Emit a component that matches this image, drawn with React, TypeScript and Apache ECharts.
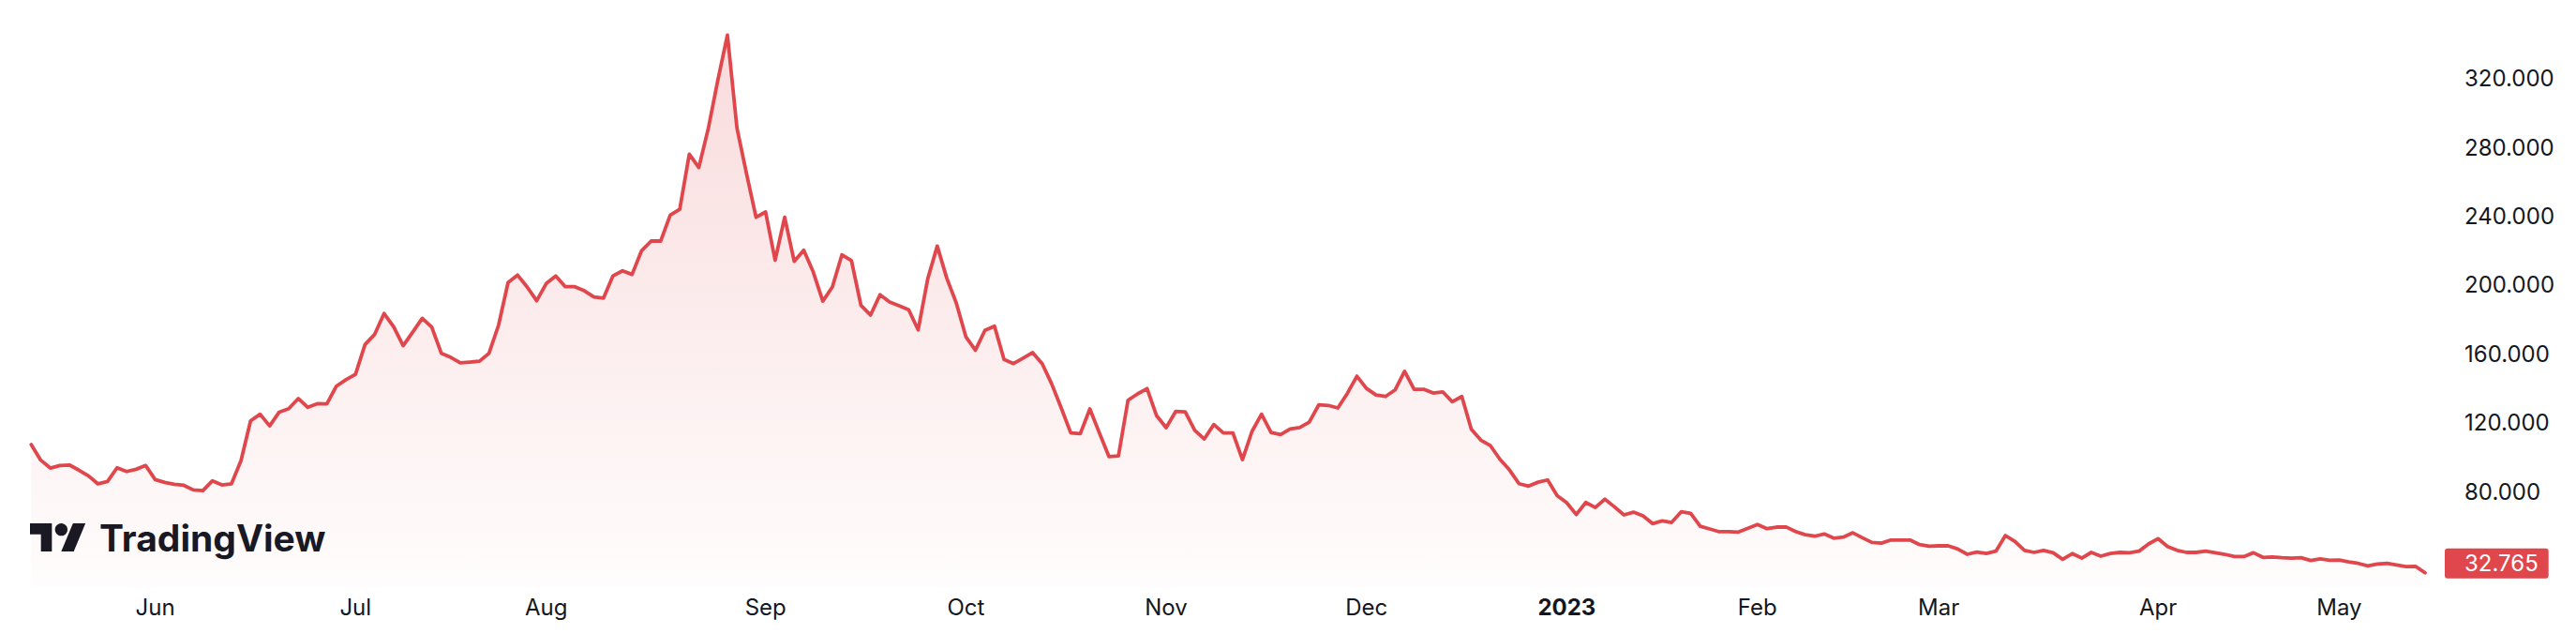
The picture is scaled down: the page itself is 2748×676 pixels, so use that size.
import React, { useEffect, useRef } from "react";
import * as echarts from "echarts";

// Daily closes (trading days, 12 May 2022 – 12 May 2023)
const may22 = [107.2, 98.2, 93.6, 95.1, 95.4, 92.4, 89.1, 84.4, 85.8, 93.8, 91.6, 92.9, 95.1];
const jun22 = [86.9, 85.3, 84.2, 83.6, 80.9, 80.5, 86.2, 83.8, 84.5, 98.0, 121.0, 124.9, 118.1, 126.1, 128.1, 134.0, 128.9, 131.0, 130.9, 141.2, 144.9];
const jul22 = [148.1, 165.4, 171.2, 183.4, 175.7, 164.7, 172.6, 180.6, 175.5, 160.3, 157.9, 154.7, 155.2, 155.7, 160.3, 176.6, 201.4, 205.7, 198.8, 190.8];
const aug22 = [200.8, 205.2, 199.0, 199.0, 196.6, 193.0, 192.3, 205.3, 208.2, 206.1, 219.9, 225.5, 225.5, 240.6, 244.0, 276.0, 268.2, 291.1, 319.2, 345.2, 291.1, 264.7, 239.3];
const sep22 = [242.4, 214.4, 239.3, 213.7, 220.2, 207.5, 190.6, 198.8, 217.5, 214.2, 188.1, 182.5, 194.3, 190.1, 187.9, 185.6, 173.9, 203.5, 222.6, 203.9, 189.4];
const oct22 = [169.9, 162.1, 173.6, 176.1, 156.7, 154.3, 157.5, 160.7, 154.3, 142.5, 128.5, 114.0, 113.6, 128.0, 114.0, 100.3, 100.7, 133.0, 136.7, 139.8, 124.0];
const nov22 = [117.1, 126.5, 126.3, 115.5, 110.5, 118.9, 114.0, 114.0, 98.5, 114.9, 124.9, 114.3, 113.1, 116.3, 117.1, 120.3, 130.3, 130.0, 128.5, 137.0, 147.0];
const dec22 = [139.9, 136.1, 135.2, 139.0, 149.8, 139.4, 139.4, 137.2, 137.9, 132.1, 135.2, 116.1, 109.8, 106.6, 98.7, 92.5, 84.5, 83.1, 85.4, 86.7, 77.6];
const jan23 = [73.5, 66.6, 73.6, 70.7, 75.5, 71.1, 66.4, 68.0, 65.8, 61.3, 62.9, 62.0, 68.2, 67.3, 59.8, 58.2, 56.6, 56.7, 56.4, 58.6];
const feb23 = [60.8, 58.4, 59.3, 59.4, 56.7, 54.9, 54.0, 55.3, 52.9, 53.5, 56.0, 53.1, 50.4, 50.0, 51.8, 51.8, 51.8, 49.1, 48.2];
const mar23 = [48.4, 48.4, 46.6, 43.5, 44.8, 44.0, 45.3, 54.4, 50.9, 45.7, 44.6, 45.8, 44.4, 40.6, 43.9, 41.3, 44.6, 42.4, 44.0, 44.6, 44.4, 45.3, 49.5];
const apr23 = [52.6, 48.0, 45.8, 44.6, 44.6, 45.3, 44.4, 43.5, 42.2, 42.2, 44.4, 41.7, 41.9, 41.5, 41.3, 41.5, 39.9, 40.8, 40.0];
const may23 = [40.2, 39.1, 38.2, 36.8, 37.9, 38.2, 37.3, 36.4, 36.5, 32.765];

const closes = [...may22, ...jun22, ...jul22, ...aug22, ...sep22, ...oct22, ...nov22, ...dec22, ...jan23, ...feb23, ...mar23, ...apr23, ...may23];

const startDate = "2022-05-12";
const endDate = "2023-05-12";
const marketHolidays = ["2022-05-30", "2022-06-20", "2022-07-04", "2022-09-05", "2022-11-24", "2022-12-26", "2023-01-02", "2023-01-16", "2023-02-20", "2023-04-07"];
const monthNames = ["Jan", "Feb", "Mar", "Apr", "May", "Jun", "Jul", "Aug", "Sep", "Oct", "Nov", "Dec"];
const yTickLabels = [80, 120, 160, 200, 240, 280, 320];

function tradingDays(start: string, end: string, holidays: string[]): string[] {
  const out: string[] = [];
  const d = new Date(start + "T00:00:00Z");
  const e = new Date(end + "T00:00:00Z");
  while (d.getTime() <= e.getTime()) {
    const wd = d.getUTCDay();
    const s = d.toISOString().slice(0, 10);
    if (wd !== 0 && wd !== 6 && holidays.indexOf(s) < 0) out.push(s);
    d.setUTCDate(d.getUTCDate() + 1);
  }
  return out;
}

const dates = tradingDays(startDate, endDate, marketHolidays);

const LINE = "#e0474c";
const TEXT = "#131722";
const FONT = "Inter, Roboto, 'Noto Sans', sans-serif";

export default function App() {
  const ref = useRef<HTMLDivElement>(null);

  useEffect(() => {
    if (!ref.current) return;
    const chart = echarts.init(ref.current, null, { renderer: "svg" });
    const firstOfMonth = dates.map((d, i) => i > 0 && d.slice(5, 7) !== dates[i - 1].slice(5, 7));

    const s = 1.667;
    chart.setOption({
      animation: false,
      backgroundColor: "#ffffff",
      grid: { left: 33.3, right: 161, top: 10.2, bottom: 49.2, containLabel: false, outerBoundsMode: "none" },
      xAxis: {
        type: "category",
        data: dates,
        boundaryGap: false,
        axisLine: { show: false },
        axisTick: { show: false },
        splitLine: { show: false },
        axisLabel: {
          interval: (index: number) => firstOfMonth[index],
          margin: 9,
          fontSize: 24,
          fontFamily: FONT,
          color: TEXT,
          formatter: (value: string) => {
            const m = parseInt(value.slice(5, 7), 10);
            if (m === 1) return "{yr|" + value.slice(0, 4) + "}";
            return monthNames[m - 1];
          },
          rich: {
            yr: { fontSize: 24, fontFamily: FONT, fontWeight: 700, color: TEXT },
          },
        },
      },
      yAxis: {
        type: "value",
        position: "right",
        min: 24,
        max: 360,
        interval: 8,
        axisLine: { show: false },
        axisTick: { show: false },
        splitLine: { show: false },
        axisLabel: {
          margin: 42,
          fontSize: 24,
          fontFamily: FONT,
          color: TEXT,
          formatter: (v: number) => (yTickLabels.indexOf(v) >= 0 ? v.toFixed(3) : ""),
        },
      },
      series: [
        {
          type: "line",
          data: closes,
          showSymbol: false,
          symbol: "none",
          lineStyle: { color: LINE, width: 3.8, join: "round", cap: "round" },
          itemStyle: { color: LINE },
          areaStyle: {
            color: new echarts.graphic.LinearGradient(0, 0, 0, 1, [
              { offset: 0, color: "rgba(224,71,76,0.28)" },
              { offset: 1, color: "rgba(224,71,76,0.02)" },
            ]),
          },
          endLabel: {
            show: true,
            formatter: () => closes[closes.length - 1].toFixed(3),
            color: "#ffffff",
            backgroundColor: LINE,
            fontSize: 24,
            lineHeight: 24,
            fontFamily: FONT,
            padding: [4, 11, 4, 21],
            borderRadius: 3,
            distance: 21,
            offset: [0, -10],
          },
        },
      ],
      graphic: [
        {
          type: "group",
          x: 32,
          y: 558 - 4 * s,
          scaleX: s,
          scaleY: s,
          children: [
            { type: "polygon", shape: { points: [[0, 4], [14, 4], [14, 22], [7, 22], [7, 11], [0, 11]] }, style: { fill: TEXT } },
            { type: "circle", shape: { cx: 20, cy: 8, r: 4 }, style: { fill: TEXT } },
            { type: "polygon", shape: { points: [[27.5, 4], [35.5, 4], [28, 22], [20, 22]] }, style: { fill: TEXT } },
          ],
        },
        {
          type: "text",
          x: 106,
          y: 573,
          style: {
            text: "TradingView",
            fill: TEXT,
            fontSize: 39,
            fontWeight: 700,
            fontFamily: FONT,
            verticalAlign: "middle",
            align: "left",
          },
        },
      ],
    });
    return () => chart.dispose();
  }, []);

  return (
    <div
      ref={ref}
      style={{ position: "fixed", left: 0, top: 0, width: 2748, height: 676, background: "#fff" }}
    />
  );
}
